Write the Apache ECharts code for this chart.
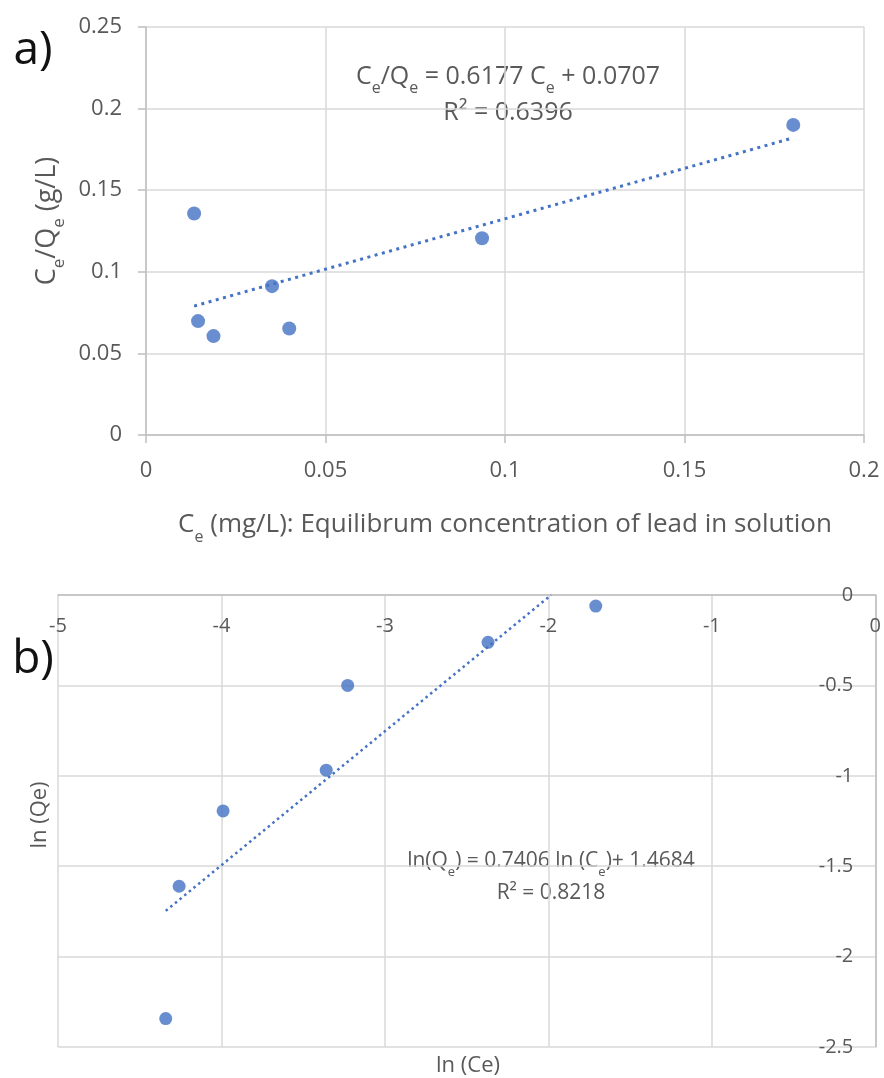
<!DOCTYPE html>
<html>
<head>
<meta charset="utf-8">
<script src="https://cdn.jsdelivr.net/npm/echarts@6/dist/echarts.min.js"></script>
<style>
  html, body { margin: 0; padding: 0; background: #fff; }
  #chart { width: 884px; height: 1078px; }
</style>
</head>
<body>
<div id="chart"></div>
<script>
(function () {
  var ink = '#595959', grid = '#d9d9d9', axisCol = '#bfbfbf', blue = '#4472C4';
  var ff = '"Open Sans", sans-serif';

  // a) Ce vs Ce/Qe
  var ceA = [0.0134, 0.0145, 0.0188, 0.0351, 0.0399, 0.0936, 0.1803];
  var ratioA = [0.1357, 0.0698, 0.0606, 0.0912, 0.0653, 0.1206, 0.190];
  var trendAx = [0.0134, 0.1803];
  var trendAy = [0.0790, 0.1821];

  // b) ln(Ce) vs ln(Qe)
  var lnCe = [-1.71, -2.369, -3.228, -3.359, -3.99, -4.259, -4.341];
  var lnQe = [-0.061, -0.262, -0.5, -0.969, -1.194, -1.611, -2.343];
  var trendBx = [-4.341, -1.983];
  var trendBy = [-1.747, 0];

  function pairs(xs, ys) {
    return xs.map(function (x, i) { return [x, ys[i]]; });
  }

  function rich(base) {
    return {
      n: { fontSize: base, color: ink, fontFamily: ff, lineHeight: base + 8 },
      s: { fontSize: Math.round(base * 0.62), color: ink, fontFamily: ff, verticalAlign: 'bottom', lineHeight: base + 14 }
    };
  }

  var chart = echarts.init(document.getElementById('chart'), null, { renderer: 'canvas' });

  chart.setOption({
    animation: false,
    backgroundColor: '#fff',
    grid: [
      { left: 146, top: 27, width: 718, height: 408 },
      { left: 58, top: 595, width: 819, height: 452 }
    ],
    xAxis: [{
      gridIndex: 0, type: 'value', min: 0, max: 0.2, interval: 0.05,
      axisLine: { lineStyle: { color: axisCol, width: 1.5 } },
      axisTick: { show: true, length: 8, lineStyle: { color: axisCol, width: 1.5 } },
      splitLine: { lineStyle: { color: grid, width: 1.5 } },
      axisLabel: { color: ink, fontSize: 22, fontFamily: ff, margin: 25 },
      name: '{n|C}{s|e}{n| (mg/L): Equilibrum concentration of lead in solution}',
      nameLocation: 'middle', nameGap: 70,
      nameTextStyle: { rich: rich(26) }
    }, {
      gridIndex: 1, type: 'value', min: -5, max: 0, interval: 1, position: 'top',
      axisLine: { lineStyle: { color: axisCol, width: 1.5 } },
      axisTick: { show: false },
      splitLine: { lineStyle: { color: grid, width: 1.5 } },
      axisLabel: { inside: true, color: ink, fontSize: 20, fontFamily: ff, margin: 21 }
    }],
    yAxis: [{
      gridIndex: 0, type: 'value', min: 0, max: 0.25, interval: 0.05,
      axisLine: { show: true, lineStyle: { color: axisCol, width: 1.5 } },
      axisTick: { show: true, length: 8, lineStyle: { color: axisCol, width: 1.5 } },
      splitLine: { lineStyle: { color: grid, width: 1.5 } },
      axisLabel: { color: ink, fontSize: 22, fontFamily: ff, margin: 24 },
      name: '{n|C}{s|e}{n|/Q}{s|e}{n| (g/L)}',
      nameLocation: 'middle', nameGap: 78, nameRotate: 90,
      nameTextStyle: { rich: rich(27), padding: [0, 0, 0, 20] }
    }, {
      gridIndex: 1, type: 'value', min: -2.5, max: 0, interval: 0.5, position: 'right',
      axisLine: { show: true, lineStyle: { color: axisCol, width: 1.5 } },
      axisTick: { show: false },
      splitLine: { lineStyle: { color: grid, width: 1.5 } },
      axisLabel: { inside: true, color: ink, fontSize: 20, fontFamily: ff, margin: 22 }
    }],
    series: [{
      type: 'scatter', xAxisIndex: 0, yAxisIndex: 0,
      data: pairs(ceA, ratioA), symbolSize: 14,
      itemStyle: { color: blue }
    }, {
      type: 'line', xAxisIndex: 0, yAxisIndex: 0,
      data: pairs(trendAx, trendAy), symbol: 'none',
      lineStyle: { color: blue, width: 3, type: [3, 4.5] }
    }, {
      type: 'scatter', xAxisIndex: 1, yAxisIndex: 1,
      data: pairs(lnCe, lnQe), symbolSize: 13,
      itemStyle: { color: blue }
    }, {
      type: 'line', xAxisIndex: 1, yAxisIndex: 1,
      data: pairs(trendBx, trendBy), symbol: 'none', clip: true,
      lineStyle: { color: blue, width: 2.5, type: [2.5, 3.5] }
    }],
    graphic: [
      { type: 'text', x: 33, y: 51, style: { text: 'a)', font: '46px ' + ff, fill: '#111', align: 'center', verticalAlign: 'middle' } },
      { type: 'text', x: 33, y: 660, style: { text: 'b)', font: '46px ' + ff, fill: '#111', align: 'center', verticalAlign: 'middle' } },
      { type: 'text', x: 508, y: 93, style: {
        text: '{n|C}{s|e}{n|/Q}{s|e}{n| = 0.6177 C}{s|e}{n| + 0.0707}\n{n|R² = 0.6396}',
        fill: ink, rich: rich(25), align: 'center', verticalAlign: 'middle' } },
      { type: 'text', x: 551, y: 876, style: {
        text: '{n|ln(Q}{s|e}{n|) = 0.7406 ln (C}{s|e}{n|)+ 1.4684}\n{n|R² = 0.8218}',
        fill: ink, rich: rich(21), align: 'center', verticalAlign: 'middle' } },
      { type: 'text', x: 468, y: 1066, style: { text: 'ln (Ce)', font: '22px ' + ff, fill: ink, align: 'center', verticalAlign: 'middle' } },
      { type: 'text', x: 40, y: 815, rotation: Math.PI / 2, style: { text: 'ln (Qe)', font: '22px ' + ff, fill: ink, align: 'center', verticalAlign: 'middle' } }
    ]
  });
  window.addEventListener('resize', function () { chart.resize(); });
})();
</script>
</body>
</html>
